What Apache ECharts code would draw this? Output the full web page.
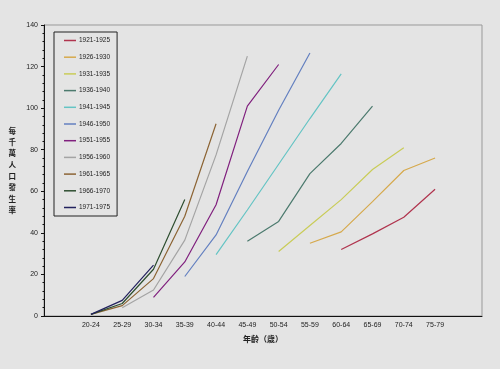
<!DOCTYPE html>
<html>
<head>
<meta charset="utf-8">
<script src="https://cdn.jsdelivr.net/npm/echarts@6/dist/echarts.min.js"></script>
<style>
html,body{margin:0;padding:0;background:#e4e4e4;}
#main{width:500px;height:369px;}
</style>
</head>
<body>
<div id="main"></div>
<script>
// Age groups (x axis categories); an empty slot before and after as in the original
var ageGroups = ['20-24','25-29','30-34','35-39','40-44','45-49','50-54','55-59','60-64','65-69','70-74','75-79'];
var cohorts = ['1921-1925','1926-1930','1931-1935','1936-1940','1941-1945','1946-1950','1951-1955','1956-1960','1961-1965','1966-1970','1971-1975'];
// Values per cohort, aligned with ageGroups (null = no data)
var c1921 = [null,null,null,null,null,null,null,null,32,39.5,47.5,61];
var c1926 = [null,null,null,null,null,null,null,35,40.5,55,70,76];
var c1931 = [null,null,null,null,null,null,31,43.5,56,70.5,81,null];
var c1936 = [null,null,null,null,null,36,45.5,68.5,83,101,null,null];
var c1941 = [null,null,null,null,29.5,51,73,95,116.5,null,null,null];
var c1946 = [null,null,null,19,39,69.5,99,126.5,null,null,null,null];
var c1951 = [null,null,9,26,53.5,101,121,null,null,null,null,null];
var c1956 = [null,4,12.5,36.5,77.5,125,null,null,null,null,null,null];
var c1961 = [0.8,5,18,48,92.5,null,null,null,null,null,null,null];
var c1966 = [0.8,6,22.5,56,null,null,null,null,null,null,null,null];
var c1971 = [0.8,7.5,24.5,null,null,null,null,null,null,null,null,null];
var seriesValues = [c1921,c1926,c1931,c1936,c1941,c1946,c1951,c1956,c1961,c1966,c1971];
var colors = ['#b0344e','#d6a94c','#c9cc58','#4c7a6e','#64c4c4','#6480c0','#80207e','#a4a4a4','#8c6434','#2e4e30','#22225e'];
var yTicks = {min:0, max:140, interval:20};

var categories = [''].concat(ageGroups, ['']);
var chart = echarts.init(document.getElementById('main'), null, {renderer:'canvas'});
var series = cohorts.map(function(name, i){
  return {
    name: name,
    type: 'line',
    data: [null].concat(seriesValues[i], [null]),
    showSymbol: false,
    symbol: 'none',
    connectNulls: false,
    lineStyle: {width: 1.2, color: colors[i]},
    itemStyle: {color: colors[i]},
    silent: true,
    animation: false
  };
});
chart.setOption({
  backgroundColor: '#e4e4e4',
  animation: false,
  grid: {left: 44, right: 18, top: 25, bottom: 53, show: true, borderColor: '#999', borderWidth: 1, backgroundColor: 'transparent'},
  legend: {
    orient: 'vertical', left: 54, top: 32,
    data: cohorts,
    icon: 'rect', itemWidth: 12, itemHeight: 1.5, itemGap: 7.7,
    padding: [4, 7, 4, 10],
    borderColor: '#222', borderWidth: 1,
    textStyle: {fontSize: 6.5, color: '#222', fontFamily: 'Liberation Sans', lineHeight: 9, padding: [0,0,0,-2]}
  },
  xAxis: {
    type: 'category', data: categories, boundaryGap: true,
    name: '年齡（歲）', nameLocation: 'middle', nameGap: 19,
    nameTextStyle: {fontSize: 8, color: '#222', fontFamily: 'Noto Sans CJK TC', fontWeight: 'bold'},
    axisLine: {lineStyle: {color: '#111', width: 1}},
    axisTick: {inside: true, length: 3, lineStyle: {color: '#111'}},
    axisLabel: {fontSize: 7, color: '#222', margin: 6, fontFamily: 'Liberation Sans', interval: 0},
    splitLine: {show: false}
  },
  yAxis: {
    type: 'value', min: yTicks.min, max: yTicks.max, interval: yTicks.interval,
    name: '每\n千\n萬\n人\n口\n發\n生\n率', nameLocation: 'middle', nameRotate: 0, nameGap: 28,
    nameTextStyle: {fontSize: 7.5, color: '#222', fontFamily: 'Noto Sans CJK TC', lineHeight: 11.3, fontWeight: 'bold'},
    axisLine: {show: true, lineStyle: {color: '#111', width: 1}},
    axisTick: {show: true, length: 3, lineStyle: {color: '#111'}},
    minorTick: {show: true, splitNumber: 5, length: 1.5, lineStyle: {color: '#111'}},
    axisLabel: {fontSize: 7, color: '#222', margin: 6, fontFamily: 'Liberation Sans'},
    splitLine: {show: false}
  },
  series: series
});
</script>
</body>
</html>
